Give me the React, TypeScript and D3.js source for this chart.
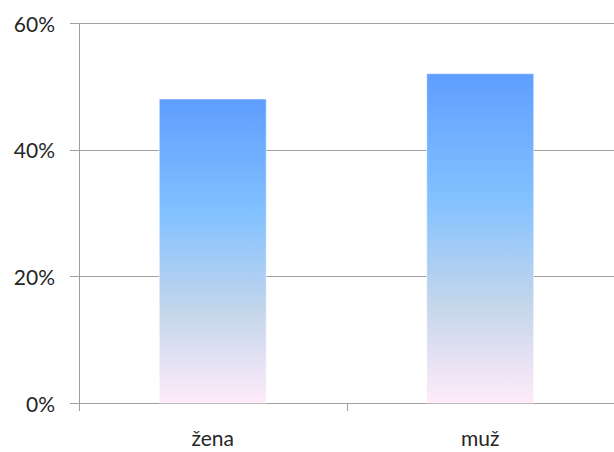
import React from "react";
import * as d3 from "d3";

const categories: string[] = ["žena", "muž"];
const values: number[] = [0.48, 0.52];
const yTicks: number[] = [0, 0.2, 0.4, 0.6];

const W = 614;
const H = 452;
const left = 79;
const right = 614;
const top = 23;
const bottom = 403;

export default function App() {
  const y = d3.scaleLinear().domain([0, 0.6]).range([bottom, top]);
  const x = d3
    .scaleBand<string>()
    .domain(categories)
    .range([left, right])
    .paddingInner(0.6)
    .paddingOuter(0.3);
  const band = (right - left) / categories.length;
  const fmt = d3.format(".0%");
  const font = "Lato, 'Open Sans', sans-serif";

  return (
    <svg
      width={W}
      height={H}
      style={{ position: "absolute", left: 0, top: 0, background: "#fff" }}
    >
      <defs>
        <linearGradient id="barGrad" x1="0" y1="0" x2="0" y2="1">
          <stop offset="0" stopColor="#5E9EFF" />
          <stop offset="0.39" stopColor="#85C2FF" />
          <stop offset="0.7" stopColor="#C4D6EB" />
          <stop offset="1" stopColor="#FFEBFA" />
        </linearGradient>
      </defs>
      {yTicks.map((t) => (
        <g key={t}>
          <line
            x1={70}
            x2={right}
            y1={Math.round(y(t)) + 0.5}
            y2={Math.round(y(t)) + 0.5}
            stroke="#A0A0A0"
            strokeWidth={1}
          />
          <text
            x={55}
            y={y(t)}
            textAnchor="end"
            dominantBaseline="central"
            fontFamily={font}
            fontSize={21}
            fill="#262626"
          >
            {fmt(t)}
          </text>
        </g>
      ))}
      {categories.map((c, i) => (
        <rect
          key={c}
          x={x(c)}
          y={y(values[i])}
          width={x.bandwidth()}
          height={y(0) - y(values[i])}
          fill="url(#barGrad)"
          stroke="rgba(255,255,255,0.55)"
          strokeWidth={1}
        />
      ))}
      <line x1={left + 0.5} x2={left + 0.5} y1={top} y2={411} stroke="#A0A0A0" />
      {d3.range(categories.length + 1).map((i) => (
        <line
          key={i}
          x1={Math.round(left + i * band) + 0.5}
          x2={Math.round(left + i * band) + 0.5}
          y1={bottom}
          y2={411}
          stroke="#A0A0A0"
        />
      ))}
      {categories.map((c) => (
        <text
          key={c}
          x={(x(c) as number) + x.bandwidth() / 2}
          y={446}
          textAnchor="middle"
          fontFamily={font}
          fontSize={21}
          fill="#262626"
        >
          {c}
        </text>
      ))}
    </svg>
  );
}
